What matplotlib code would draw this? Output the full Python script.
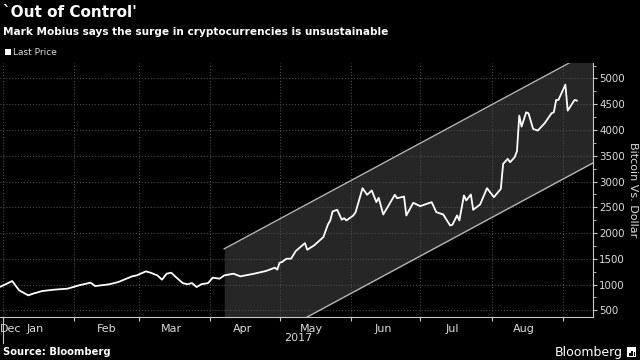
import numpy as np
import pandas as pd
import matplotlib
matplotlib.use("Agg")
import matplotlib.pyplot as plt
import matplotlib.dates as mdates
import matplotlib.transforms as mtransforms
from matplotlib.patches import Rectangle

# Bitcoin last price
dates = ['2016-12-31', '2017-01-05', '2017-01-08', '2017-01-12', '2017-01-14', '2017-01-18',
         '2017-01-23', '2017-01-29', '2017-02-03', '2017-02-08', '2017-02-10', '2017-02-16',
         '2017-02-20', '2017-02-26', '2017-02-28', '2017-03-04', '2017-03-06', '2017-03-09',
         '2017-03-11', '2017-03-13', '2017-03-15', '2017-03-17', '2017-03-20', '2017-03-22',
         '2017-03-24', '2017-03-26', '2017-03-28', '2017-03-31', '2017-04-02', '2017-04-05',
         '2017-04-07', '2017-04-11', '2017-04-14', '2017-04-20', '2017-04-25', '2017-04-29',
         '2017-04-30', '2017-05-01', '2017-05-02', '2017-05-04', '2017-05-06', '2017-05-08',
         '2017-05-12', '2017-05-13', '2017-05-16', '2017-05-20', '2017-05-22', '2017-05-23',
         '2017-05-24', '2017-05-26', '2017-05-28', '2017-05-29', '2017-05-30', '2017-06-02',
         '2017-06-03', '2017-06-06', '2017-06-08', '2017-06-10', '2017-06-12', '2017-06-13',
         '2017-06-15', '2017-06-20', '2017-06-21', '2017-06-24', '2017-06-25', '2017-06-28',
         '2017-07-01', '2017-07-06', '2017-07-08', '2017-07-11', '2017-07-14', '2017-07-15',
         '2017-07-17', '2017-07-18', '2017-07-20', '2017-07-21', '2017-07-23', '2017-07-24',
         '2017-07-27', '2017-07-30', '2017-08-02', '2017-08-05', '2017-08-06', '2017-08-08',
         '2017-08-09', '2017-08-11', '2017-08-12', '2017-08-13', '2017-08-14', '2017-08-16',
         '2017-08-17', '2017-08-19', '2017-08-21', '2017-08-24', '2017-08-27', '2017-08-28',
         '2017-08-29', '2017-08-30', '2017-09-02', '2017-09-03', '2017-09-06', '2017-09-07']
price = [960, 1068, 888, 790, 823, 874,
         900, 920, 985, 1037, 971, 1004,
         1048, 1159, 1178, 1256, 1230, 1178,
         1095, 1211, 1230, 1145, 1029, 1004,
         1029, 952, 1004, 1029, 1134, 1114,
         1178, 1211, 1159, 1211, 1262, 1327,
         1289, 1424, 1436, 1502, 1502, 1649,
         1804, 1676, 1760, 1921, 2167, 2244,
         2419, 2451, 2258, 2289, 2244, 2341,
         2405, 2870, 2742, 2825, 2599, 2684,
         2360, 2742, 2676, 2709, 2341, 2587,
         2522, 2599, 2405, 2360, 2147, 2161,
         2341, 2244, 2729, 2632, 2748, 2451,
         2554, 2870, 2696, 2858, 3343, 3440,
         3374, 3471, 3587, 4279, 4066, 4343,
         4324, 4021, 3988, 4130, 4324, 4343,
         4583, 4583, 4880, 4376, 4583, 4570]

# trend channel (start/end dates, upper and lower bounds)
channel_dates = ['2017-04-07', '2017-09-14']
channel_upper = [1694, 5550]
channel_lower = [-498, 3361]

month_labels = ['Jan', 'Feb', 'Mar', 'Apr', 'May', 'Jun', 'Jul', 'Aug']
y_ticks = [500, 1000, 1500, 2000, 2500, 3000, 3500, 4000, 4500, 5000]

x = pd.to_datetime(dates)
cx = pd.to_datetime(channel_dates)
x_left = pd.Timestamp('2016-12-30 17:00')
x_right = pd.Timestamp('2017-09-14')

fig = plt.figure(figsize=(6.4, 3.6), dpi=100, facecolor='black')
ax = fig.add_axes([0.0, 0.1194, 0.9266, 0.7056], facecolor='black')

ax.fill_between(cx, channel_lower, channel_upper, color='#262626', lw=0, zorder=1)
ax.plot(cx, channel_upper, color='#b4b4b4', lw=1.0, zorder=2)
ax.plot(cx, channel_lower, color='#b4b4b4', lw=1.0, zorder=2)
ax.plot(x, price, color='white', lw=1.3, zorder=3)

ax.set_xlim(x_left, x_right)
ax.set_ylim(370, 5300)

# month ticks at month start, labels mid-month
ax.xaxis.set_major_locator(mdates.MonthLocator())
ax.xaxis.set_major_formatter(plt.NullFormatter())
mids = [pd.Timestamp(2017, m, 15) for m in range(1, 9)]
ax.set_xticks(list(mids) + [x_left], minor=True)
ax.set_xticklabels(month_labels + ['Dec'], minor=True)
for lab in ax.xaxis.get_minorticklabels():
    if lab.get_text() == 'Dec':
        lab.set_ha('left')
ax.tick_params(axis='x', which='major', length=3, color='#c8c8c8', direction='out')
ax.tick_params(axis='x', which='minor', length=0, pad=5, labelsize=8, labelcolor='#dcdcdc')

ax.yaxis.tick_right()
ax.yaxis.set_label_position('right')
ax.set_yticks(y_ticks)
ax.set_yticks(np.arange(750, 5300, 500), minor=True)
ax.tick_params(axis='y', which='major', length=3, color='#c8c8c8', pad=1.5,
               labelsize=7.4, labelcolor='#dcdcdc')
ax.tick_params(axis='y', which='minor', length=2, color='#c8c8c8')
ax.set_ylabel('Bitcoin Vs. Dollar', color='#dcdcdc', fontsize=8, rotation=-90,
              ha='center', va='center')
ax.yaxis.set_label_coords(1.068, 0.5)

ax.grid(True, which='major', color='#4a4a4a', linestyle=':', lw=0.8)
for s in ['top', 'left']:
    ax.spines[s].set_visible(False)
ax.spines['bottom'].set_color('#c8c8c8')
ax.spines['right'].set_color('#c8c8c8')

# year separator and label
trans = mtransforms.blended_transform_factory(ax.transData, ax.transAxes)
year_start = pd.Timestamp('2017-01-01')
ax.plot([year_start, year_start], [0, -0.102], transform=trans, color='#c8c8c8',
        lw=0.8, clip_on=False)
ax.text(year_start + (x_right - year_start) / 2, -0.083, '2017', transform=trans,
        ha='center', va='center', color='#dcdcdc', fontsize=8)

fig.text(0.004, 0.985, "`Out of Control'", color='white', fontsize=11,
         fontweight='bold', va='top', ha='left')
fig.text(0.004, 0.925, 'Mark Mobius says the surge in cryptocurrencies is unsustainable',
         color='white', fontsize=7.6, fontweight='bold', va='top', ha='left')
fig.patches.append(Rectangle((0.008, 0.846), 0.0095, 0.017, transform=fig.transFigure,
                             facecolor='white', edgecolor='none'))
fig.text(0.021, 0.853, 'Last Price', color='#dcdcdc', fontsize=6.5, va='center', ha='left')

fig.text(0.005, 0.022, 'Source: Bloomberg', color='white', fontsize=7.2,
         fontweight='bold', va='center', ha='left')
fig.text(0.973, 0.022, 'Bloomberg', color='white', fontsize=9, va='center', ha='right')
fig.patches.append(Rectangle((0.980, 0.008), 0.014, 0.028, transform=fig.transFigure,
                             facecolor='white', edgecolor='none'))
for i, h in enumerate([0.008, 0.014, 0.010]):
    fig.patches.append(Rectangle((0.983 + i * 0.0035, 0.012), 0.0022, h,
                                 transform=fig.transFigure, facecolor='black',
                                 edgecolor='none'))

fig.savefig('out.png', dpi=100, facecolor='black')
